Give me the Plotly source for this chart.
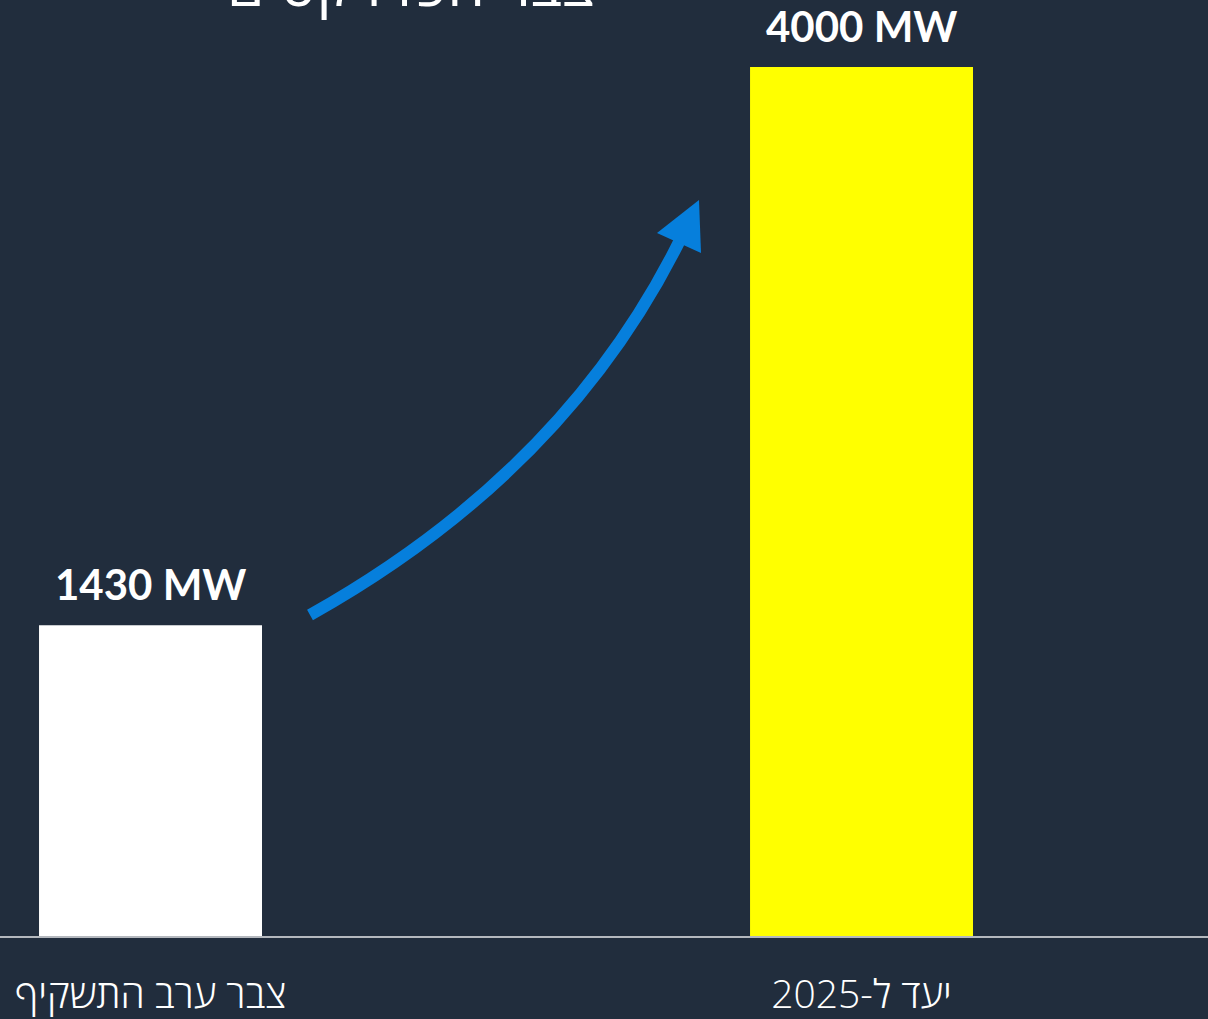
import plotly.graph_objects as go

# data
categories = ["צבר ערב התשקיף", "יעד ל-2025"]
capacity_mw = [1430, 4000]
bar_labels = ["1430 MW", "4000 MW"]
bar_colors = ["#ffffff", "#ffff00"]
title_text = "צבר הפרויקטים"

BG = "#212d3d"
W, H = 1208, 1019
PLOT_H = 936  # plot area height in px (top margin 0)

fig = go.Figure()
fig.add_trace(go.Bar(
    x=categories,
    y=capacity_mw,
    width=0.3136,
    marker=dict(color=bar_colors, line=dict(width=0)),
    hoverinfo="skip",
))

# value labels above the bars
for cat, val, lab in zip(categories, capacity_mw, bar_labels):
    fig.add_annotation(
        x=cat, y=val, text=lab, showarrow=False,
        xanchor="center", yanchor="bottom", yshift=14,
        font=dict(family="Lato", size=42, color="#ffffff", weight="bold"),
    )


# curved arrow (pixel coords -> paper coords)
def px(x, y):
    return x / W, (PLOT_H - y) / PLOT_H


p0 = px(310, 615)
p1 = px(565, 472)
p2 = px(680, 240)
fig.add_shape(
    type="path", xref="paper", yref="paper",
    path=f"M {p0[0]},{p0[1]} Q {p1[0]},{p1[1]} {p2[0]},{p2[1]}",
    line=dict(color="#067fdc", width=12),
)
h1, h2, h3 = px(657, 233), px(699, 200), px(701, 253)
fig.add_shape(
    type="path", xref="paper", yref="paper",
    path=f"M {h1[0]},{h1[1]} L {h2[0]},{h2[1]} L {h3[0]},{h3[1]} Z",
    fillcolor="#067fdc", line=dict(width=0),
)

# title, cut off at the top edge as in the reference
fig.add_annotation(
    text=title_text, xref="paper", yref="paper", x=0.34, y=1,
    xanchor="center", yanchor="bottom", yshift=-26, showarrow=False,
    font=dict(family="Open Sans", size=60, color="#ffffff"),
)

fig.update_layout(
    width=W, height=H,
    margin=dict(l=0, r=0, t=0, b=H - PLOT_H),
    paper_bgcolor=BG, plot_bgcolor=BG,
    showlegend=False,
    xaxis=dict(
        type="category", range=[-0.2117, 1.4873],
        showline=True, linecolor="#b4b8be", linewidth=2,
        showgrid=False, zeroline=False, automargin=False,
        ticks="", ticklabelstandoff=23,
        tickfont=dict(family="Open Sans", size=39, color="#ffffff", weight=300),
    ),
    yaxis=dict(range=[0, 4308], visible=False, showgrid=False, zeroline=False),
)

fig.write_html("out.html", config={"displayModeBar": False},
               post_script="document.body.style.margin='0';")
